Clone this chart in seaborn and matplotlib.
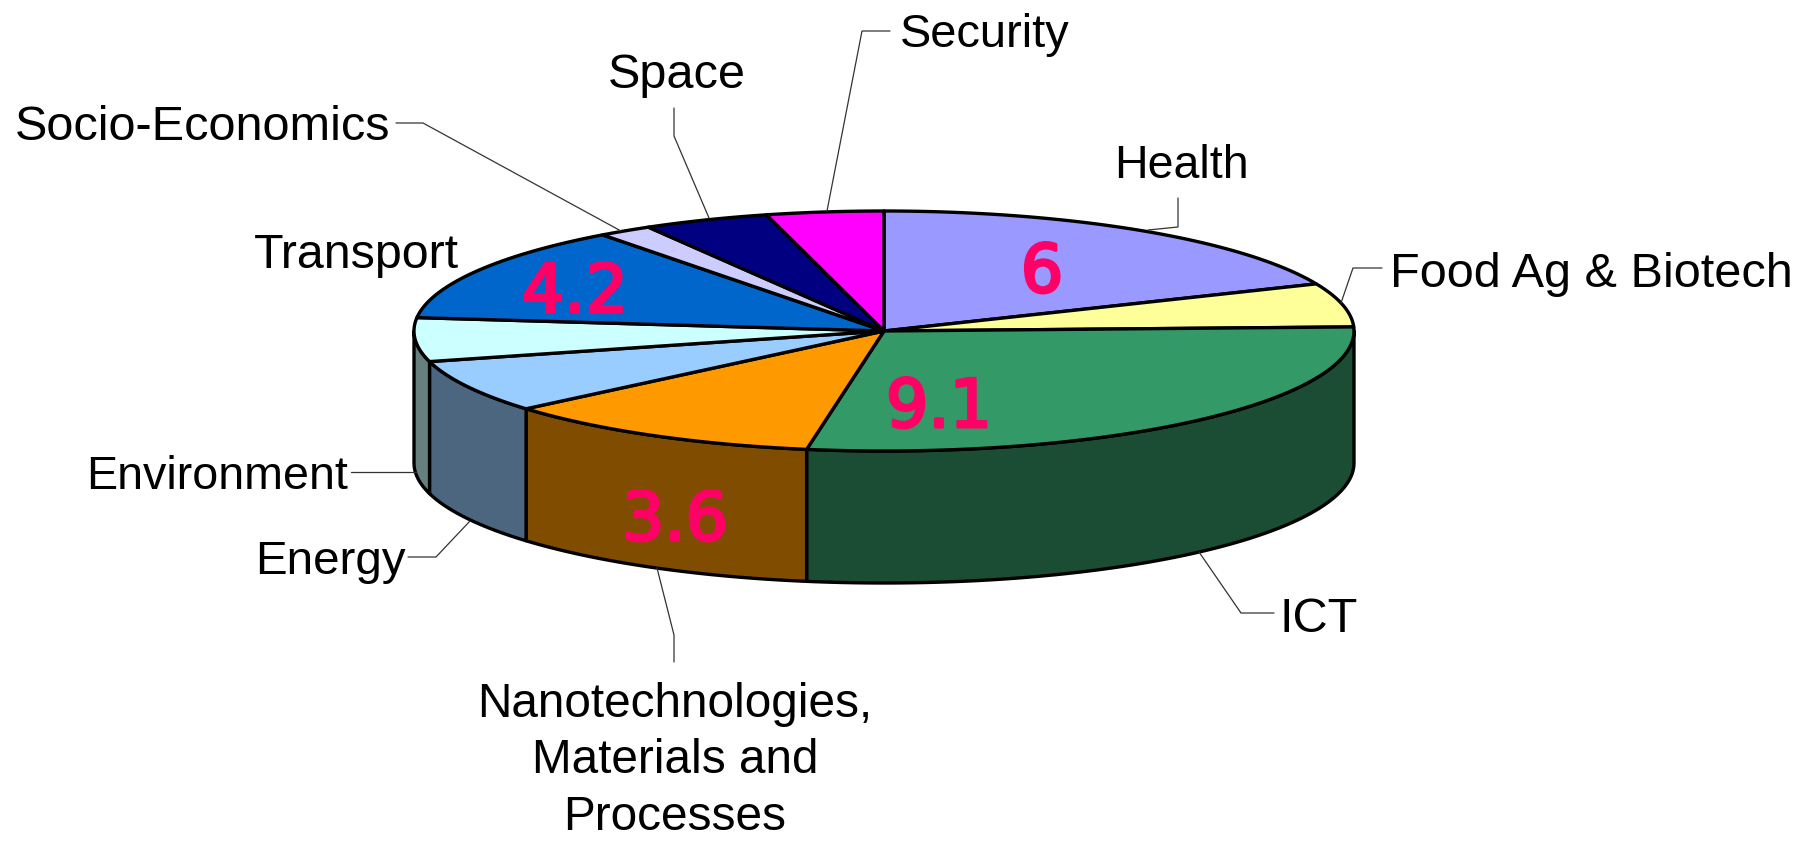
import numpy as np
import pandas as pd
import matplotlib
matplotlib.use('Agg')
import matplotlib.pyplot as plt
import matplotlib.patheffects as pe
import seaborn as sns

# Data, clockwise from the top
themes = ['Health', 'Food Ag & Biotech', 'ICT', 'Nanotechnologies,\nMaterials and\nProcesses',
          'Energy', 'Environment', 'Transport', 'Socio-Economics', 'Space', 'Security']
budget = [6, 1.9, 9.1, 3.6, 2.3, 1.9, 4.2, 0.6, 1.4, 1.3]
slice_colors = ['#9999FF', '#FFFF99', '#339966', '#FF9900', '#99CCFF',
                '#CCFFFF', '#0066CC', '#CCCCFF', '#000080', '#FF00FF']

df = pd.DataFrame({'theme': themes, 'budget': budget, 'color': slice_colors})
df['end'] = df['budget'].cumsum() / df['budget'].sum() * 360
df['start'] = df['end'].shift(1, fill_value=0)

# Pie geometry in pixels
cx, cy = 884, 331
rx, ry = 470, 120
depth = 132

# Label layout: x, baseline y, alignment, font size
label_pos = {
    'Health': (1114, 178, 'left', 33.5),
    'Food Ag & Biotech': (1390, 287, 'left', 35),
    'ICT': (1280, 632, 'left', 35),
    'Nanotechnologies,\nMaterials and\nProcesses': (675, 830, 'center', 34.4),
    'Energy': (255, 574, 'left', 34.2),
    'Environment': (86, 489, 'left', 33.6),
    'Transport': (254, 268, 'left', 34.8),
    'Socio-Economics': (15, 140, 'left', 35),
    'Space': (608, 88, 'left', 35),
    'Security': (900, 47, 'left', 33.8),
}
# Leader lines
leaders = [
    ([1178, 1178, 1148], [198, 227, 230]),
    ([1382, 1353, 1341], [268, 268, 303]),
    ([1274, 1241, 1199], [613, 613, 552]),
    ([674, 674, 657], [662, 635, 568]),
    ([408, 436, 470], [557, 557, 521]),
    ([351, 416], [472, 472]),
    ([396, 423, 621], [123, 123, 231]),
    ([674, 674, 709], [108, 136, 218]),
    ([890, 862, 827], [31, 31, 211]),
]
value_pos = {
    'Health': (1042, 292),
    'ICT': (939, 427),
    'Nanotechnologies,\nMaterials and\nProcesses': (675, 540),
    'Transport': (575, 312),
}


def rim(a0, a1, dy=0):
    # angle measured clockwise from the top of the ellipse
    t = np.radians(np.linspace(a0, a1, 120))
    return cx + rx * np.sin(t), cy - ry * np.cos(t) + dy


sns.set_theme(style='white')
plt.rcParams['font.family'] = ['Liberation Sans', 'DejaVu Sans']

fig, ax = plt.subplots(figsize=(18.16, 8.41), dpi=100)
ax.set_position([0, 0, 1, 1])
ax.set_xlim(0, 1816)
ax.set_ylim(841, 0)
ax.axis('off')

# Side wall, only the front half of the pie shows it
for _, row in df.iterrows():
    a0, a1 = max(row['start'], 90), min(row['end'], 270)
    if a1 <= a0:
        continue
    x, y = rim(a0, a1)
    xb, yb = rim(a1, a0, depth)
    shade = tuple(c * 0.5 for c in matplotlib.colors.to_rgb(row['color']))
    ax.fill(np.r_[x, xb], np.r_[y, yb], facecolor=shade, edgecolor='black', linewidth=2.4, joinstyle='round')

# Top of the pie
for _, row in df.iterrows():
    x, y = rim(row['start'], row['end'])
    ax.fill(np.r_[cx, x], np.r_[cy, y], facecolor=row['color'], edgecolor='black', linewidth=2.4, joinstyle='round')

for lx, ly in leaders:
    ax.plot(lx, ly, color='#333333', linewidth=0.9, solid_joinstyle='miter')

for name, (x, y, ha, size) in label_pos.items():
    ax.text(x, y, name, ha=ha, va='baseline', fontsize=size, color='black', linespacing=1.33)

for name, (x, y) in value_pos.items():
    val = df.loc[df['theme'] == name, 'budget'].iloc[0]
    ax.text(x, y, f'{val:g}', ha='center', va='baseline', fontsize=48, color='#FF0066',
            family='DejaVu Sans',
            path_effects=[pe.withStroke(linewidth=2.2, foreground='#FF0066')])

fig.savefig('out.png', dpi=100, facecolor='white')
